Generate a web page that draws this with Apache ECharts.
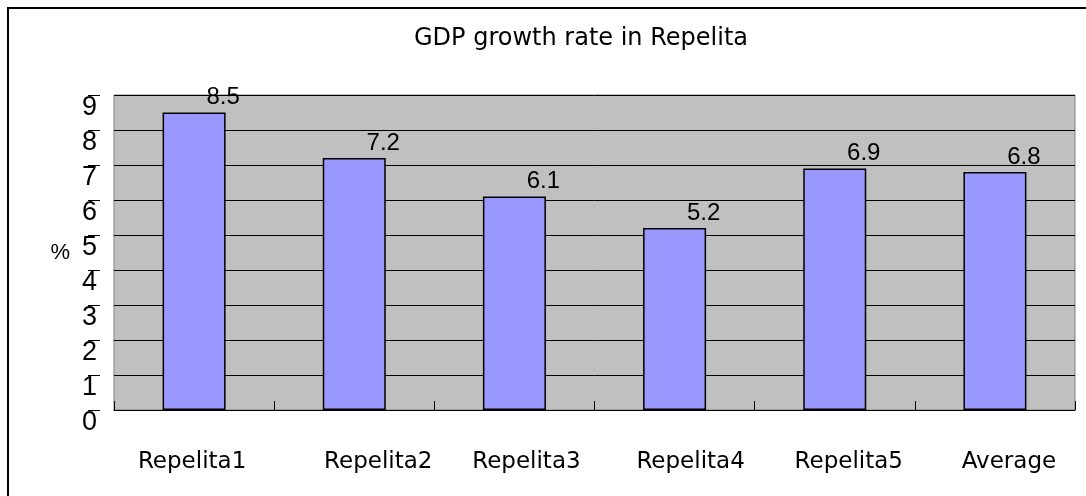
<!DOCTYPE html>
<html>
<head>
<meta charset="utf-8">
<script src="https://cdn.jsdelivr.net/npm/echarts@6/dist/echarts.min.js"></script>
<style>
  html, body { margin: 0; padding: 0; background: #fff; }
  #chart { width: 1086px; height: 496px; }
</style>
</head>
<body>
<div id="chart"></div>
<script>
// Plan periods and their GDP growth rates (%)
const categories = ['Repelita1', 'Repelita2', 'Repelita3', 'Repelita4', 'Repelita5', 'Average'];
const growthRates = [8.5, 7.2, 6.1, 5.2, 6.9, 6.8];
const yTicks = [0, 1, 2, 3, 4, 5, 6, 7, 8, 9];

// horizontal nudge (px) for each category label
const labelNudge = [-2, 24, 12, 16, 14, 14];

const FONT = 'DejaVu Sans';
const NUM_FONT = 'Liberation Sans';

const chart = echarts.init(document.getElementById('chart'), null, { renderer: 'canvas' });

chart.setOption({
  backgroundColor: '#ffffff',
  animation: false,
  title: {
    text: 'GDP growth rate in Repelita',
    left: 576,
    top: 22,
    textAlign: 'center',
    textStyle: { fontFamily: FONT, fontSize: 24, fontWeight: 'normal', color: '#000' }
  },
  graphic: [
    {
      type: 'rect',
      shape: { x: 8, y: 8, width: 1200, height: 1200 },
      style: { fill: 'none', stroke: '#000', lineWidth: 2 },
      z: 100
    }
  ],
  grid: {
    left: 114, right: 11, top: 95, bottom: 86,
    show: true,
    backgroundColor: '#C0C0C0',
    borderColor: '#808080',
    borderWidth: 1
  },
  xAxis: {
    type: 'category',
    data: categories.map((c, i) => ({
      value: c,
      textStyle: { padding: labelNudge[i] >= 0 ? [0, 0, 0, labelNudge[i] * 2] : [0, -labelNudge[i] * 2, 0, 0] }
    })),
    axisLine: { show: true, lineStyle: { color: '#000', width: 1 } },
    axisTick: { show: true, inside: true, length: 9, lineStyle: { color: '#000' } },
    axisLabel: { margin: 41, fontFamily: FONT, fontSize: 23, color: '#000' },
    splitLine: { show: false }
  },
  yAxis: {
    type: 'value',
    min: yTicks[0],
    max: yTicks[yTicks.length - 1],
    interval: 1,
    offset: 14,
    name: '%',
    nameLocation: 'middle',
    nameRotate: 0,
    nameGap: 30,
    nameTextStyle: { fontFamily: NUM_FONT, fontSize: 22, color: '#000' },
    axisLine: { show: false },
    axisTick: { show: true, length: 12, lineStyle: { color: '#000' } },
    axisLabel: {
      margin: 3,
      fontFamily: NUM_FONT,
      fontSize: 27,
      color: '#000',
      verticalAlign: 'top',
      padding: [-1, 0, 0, 0]
    },
    splitLine: { show: true, lineStyle: { color: '#000', width: 1 } }
  },
  series: [
    {
      type: 'bar',
      data: growthRates,
      barWidth: 63,
      itemStyle: { color: '#9999FF', borderColor: '#000', borderWidth: 1.5 },
      label: {
        show: true,
        position: 'top',
        distance: 3,
        offset: [29, 0],
        fontFamily: NUM_FONT,
        fontSize: 24,
        color: '#000'
      }
    }
  ]
});
</script>
</body>
</html>
